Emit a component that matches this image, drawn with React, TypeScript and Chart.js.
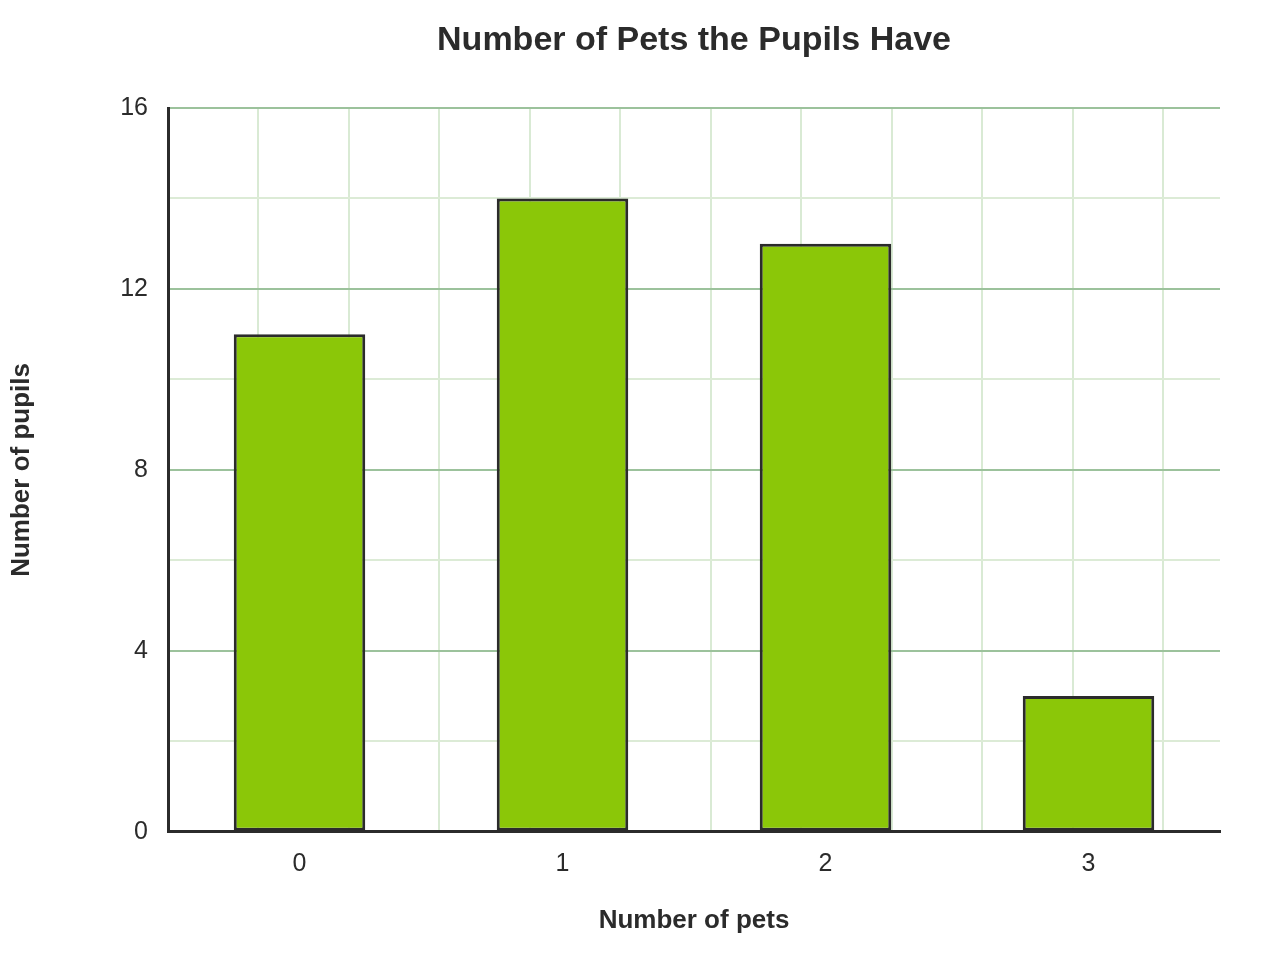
import { useEffect, useRef } from "react";
import { Chart, registerables } from "chart.js";
Chart.register(...registerables);

const petCounts = ["0", "1", "2", "3"];
const pupils = [11, 14, 13, 3];
const yMax = 16;
const yStep = 2;
const yLabelEvery = 4;
// the faint vertical grid does not follow the categories: ~90.5px cells over a 1052px plot
const vGridMax = 11.63;

const TITLE = "Number of Pets the Pupils Have";
const FONT = "'Liberation Sans', Arial, sans-serif";
const INK = "#2b2b2b";

// title centred over the plot area rather than the whole canvas
const plotTitle = {
  id: "plotTitle",
  afterDraw(chart: Chart) {
    const { ctx, chartArea } = chart;
    ctx.save();
    ctx.fillStyle = INK;
    ctx.font = `bold 34px ${FONT}`;
    ctx.textAlign = "center";
    ctx.textBaseline = "middle";
    ctx.fillText(TITLE, (chartArea.left + chartArea.right) / 2, 41);
    ctx.restore();
  },
};

export default function App() {
  const ref = useRef<HTMLCanvasElement | null>(null);

  useEffect(() => {
    document.body.style.margin = "0";
    if (!ref.current) return;
    const ctx = ref.current.getContext("2d");
    if (!ctx) return;

    const chart = new Chart(ctx, {
      type: "bar",
      data: {
        labels: petCounts,
        datasets: [
          {
            label: "Pupils",
            data: pupils,
            backgroundColor: "#8BC708",
            borderColor: INK,
            borderWidth: 3,
            borderSkipped: false,
            barPercentage: 0.5,
            categoryPercentage: 1,
          },
        ],
      },
      plugins: [plotTitle],
      options: {
        animation: false,
        responsive: true,
        maintainAspectRatio: false,
        layout: { padding: { top: 108, right: 60, bottom: 44, left: 0 } },
        plugins: {
          legend: { display: false },
          tooltip: { enabled: false },
          title: { display: false },
        },
        scales: {
          x: {
            grid: { display: false },
            border: { color: INK, width: 3 },
            ticks: { color: INK, font: { family: FONT, size: 25 }, padding: 9 },
            title: {
              display: true,
              text: "Number of pets",
              color: INK,
              font: { family: FONT, size: 26, weight: "bold" },
              padding: { top: 17, bottom: 0 },
            },
          },
          xg: {
            type: "linear",
            position: "top",
            min: 0,
            max: vGridMax,
            offset: false,
            border: { display: false },
            grid: { color: "#d9ead4", lineWidth: 2, drawTicks: false, offset: false },
            ticks: { display: false, stepSize: 1, includeBounds: false },
          },
          y: {
            min: 0,
            max: yMax,
            border: { color: INK, width: 3 },
            grid: {
              drawTicks: false,
              lineWidth: 2,
              color: (c) => (c.tick && c.tick.value % yLabelEvery === 0 ? "#9cc29c" : "#dcebd6"),
            },
            ticks: {
              stepSize: yStep,
              color: INK,
              padding: 20,
              font: { family: FONT, size: 25 },
              callback: (v) => (Number(v) % yLabelEvery === 0 ? String(v) : ""),
            },
            title: {
              display: true,
              text: "Number of pupils",
              color: INK,
              font: { family: FONT, size: 26, weight: "bold" },
              padding: { top: 6, bottom: 63 },
            },
          },
        },
      },
    });

    return () => chart.destroy();
  }, []);

  return (
    <div style={{ width: 1280, height: 980, background: "#fff" }}>
      <canvas ref={ref} />
    </div>
  );
}
